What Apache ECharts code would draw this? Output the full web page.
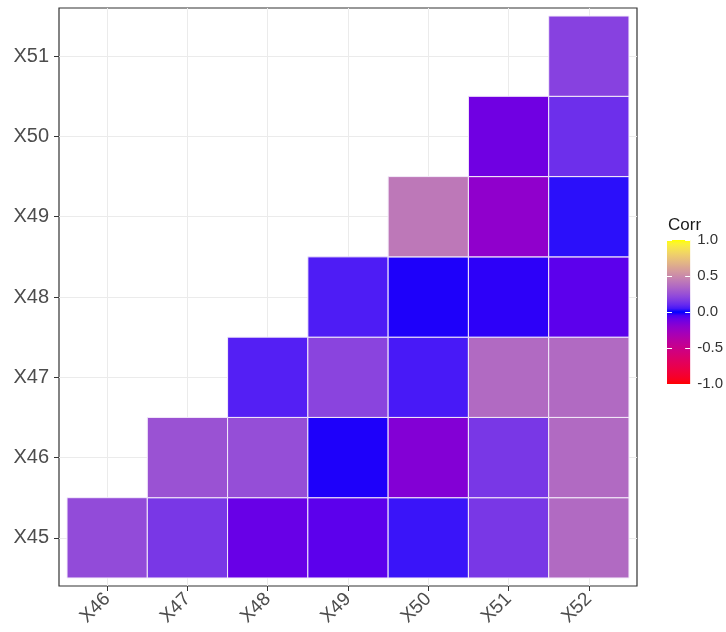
<!DOCTYPE html>
<html>
<head>
<meta charset="utf-8">
<script src="https://cdn.jsdelivr.net/npm/echarts@6/dist/echarts.min.js"></script>
<style>html,body{margin:0;padding:0;background:#fff;}#c{width:726px;height:632px;}</style>
</head>
<body>
<div id="c"></div>
<script>
const xCats = ['X46','X47','X48','X49','X50','X51','X52'];
const yCats = ['X45','X46','X47','X48','X49','X50','X51'];
const rowX45 = [0.23, 0.15, -0.10, -0.08, 0.04, 0.15, 0.36];
const rowX46 = [null, 0.26, 0.24, -0.02, -0.17, 0.15, 0.36];
const rowX47 = [null, null, 0.07, 0.20, 0.05, 0.36, 0.36];
const rowX48 = [null, null, null, 0.06, -0.02, -0.03, -0.08];
const rowX49 = [null, null, null, null, 0.42, -0.21, 0.03];
const rowX50 = [null, null, null, null, null, -0.12, 0.12];
const rowX51 = [null, null, null, null, null, null, 0.19];
const legendBreaks = [-1, -0.5, 0, 0.5, 1];
const legendTitle = 'Corr';

const rows = [rowX45, rowX46, rowX47, rowX48, rowX49, rowX50, rowX51];
const data = [];
rows.forEach((r, yi) => r.forEach((v, xi) => { if (v !== null) data.push([xi + 1, yi + 1, v]); }));

// Lab interpolation (like ggplot2 scale_fill_gradient2)
function srgbToLin(c){ c/=255; return c<=0.04045? c/12.92 : Math.pow((c+0.055)/1.055,2.4); }
function linToSrgb(c){ c=Math.max(0,Math.min(1,c)); const v = c<=0.0031308? 12.92*c : 1.055*Math.pow(c,1/2.4)-0.055; return Math.round(v*255); }
function rgb2lab(rgb){
  const r=srgbToLin(rgb[0]), g=srgbToLin(rgb[1]), b=srgbToLin(rgb[2]);
  let X=(0.4124*r+0.3576*g+0.1805*b)/0.95047, Y=(0.2126*r+0.7152*g+0.0722*b), Z=(0.0193*r+0.1192*g+0.9505*b)/1.08883;
  const f=t=> t>0.008856? Math.cbrt(t) : 7.787*t+16/116;
  const fx=f(X), fy=f(Y), fz=f(Z);
  return [116*fy-16, 500*(fx-fy), 200*(fy-fz)];
}
function lab2rgb(lab){
  const fy=(lab[0]+16)/116, fx=fy+lab[1]/500, fz=fy-lab[2]/200;
  const fi=t=> t*t*t>0.008856? t*t*t : (t-16/116)/7.787;
  const X=fi(fx)*0.95047, Y=fi(fy), Z=fi(fz)*1.08883;
  const r=3.2406*X-1.5372*Y-0.4986*Z, g=-0.9689*X+1.8758*Y+0.0415*Z, b=0.0557*X-0.2040*Y+1.0570*Z;
  return 'rgb('+linToSrgb(r)+','+linToSrgb(g)+','+linToSrgb(b)+')';
}
const labLow = rgb2lab([255,0,0]), labMid = rgb2lab([0,0,255]), labHigh = rgb2lab([255,255,0]);
function colorAt(v){
  const a = v<0? labLow : labHigh; const t = Math.abs(v);
  return lab2rgb([0,1,2].map(i => labMid[i] + (a[i]-labMid[i])*t));
}
const stopColors = [];
for (let i = 0; i <= 40; i++) stopColors.push(colorAt(-1 + i*0.05));
const gradStops = stopColors.map((c, i) => ({offset: 1 - i/40, color: c}));

const font = 'Liberation Sans, Arial, sans-serif';
const chart = echarts.init(document.getElementById('c'));
chart.setOption({
  animation: false,
  backgroundColor: '#fff',
  title: { text: legendTitle, left: 663, top: 212, textStyle: { fontSize: 17, fontWeight: 'normal', color: '#1a1a1a', fontFamily: font } },
  grid: [
    { left: 59, top: 8, width: 578, height: 578, show: true, borderColor: '#333', borderWidth: 1.2, backgroundColor: '#fff' },
    { left: 667, top: 240, width: 27, height: 144, show: false }
  ],
  visualMap: { show: false, type: 'continuous', seriesIndex: 0, dimension: 2, min: -1, max: 1, inRange: { color: stopColors } },
  xAxis: [
    { type: 'value', gridIndex: 0, min: 0.4, max: 7.6,
      axisLine: { show: false },
      axisTick: { show: true, length: 5, lineStyle: { color: '#333' }, customValues: [1,2,3,4,5,6,7] },
      axisLabel: { customValues: [1,2,3,4,5,6,7], formatter: v => xCats[Math.round(v)-1] || '', rotate: 45, fontSize: 19, color: '#4D4D4D', fontFamily: font, margin: 10 },
      splitLine: { show: true, lineStyle: { color: '#EBEBEB', width: 1 } } },
    { type: 'value', gridIndex: 1, min: 0, max: 1, show: false }
  ],
  yAxis: [
    { type: 'value', gridIndex: 0, min: 0.4, max: 7.6,
      axisLine: { show: false },
      axisTick: { show: true, length: 5, lineStyle: { color: '#333' }, customValues: [1,2,3,4,5,6,7] },
      axisLabel: { customValues: [1,2,3,4,5,6,7], formatter: v => yCats[Math.round(v)-1] || '', fontSize: 20, color: '#4D4D4D', fontFamily: font, margin: 10 },
      splitLine: { show: true, lineStyle: { color: '#EBEBEB', width: 1 } } },
    { type: 'value', gridIndex: 1, position: 'left', min: -1, max: 1, interval: 0.5, z: 10,
      axisLine: { show: false }, axisLabel: { show: false }, splitLine: { show: false },
      axisTick: { show: true, inside: true, length: 5, lineStyle: { color: '#fff', width: 1 } } },
    { type: 'value', gridIndex: 1, position: 'right', min: -1, max: 1, interval: 0.5, z: 10,
      axisLine: { show: false }, splitLine: { show: false },
      axisTick: { show: true, inside: true, length: 5, lineStyle: { color: '#fff', width: 1 } },
      axisLabel: { show: true, fontSize: 15, color: '#333', fontFamily: font, margin: 7, formatter: v => v.toFixed(1) } }
  ],
  series: [
    { type: 'custom', xAxisIndex: 0, yAxisIndex: 0, data: data, encode: { x: 0, y: 1 },
      renderItem: function (params, api) {
        const x = api.value(0), y = api.value(1);
        const p1 = api.coord([x - 0.5, y + 0.5]);
        const p2 = api.coord([x + 0.5, y - 0.5]);
        return { type: 'rect', shape: { x: p1[0], y: p1[1], width: p2[0] - p1[0], height: p2[1] - p1[1] },
          style: { fill: api.visual('color'), stroke: '#f4ecfa', lineWidth: 1 } };
      } },
    { type: 'custom', xAxisIndex: 1, yAxisIndex: 1, data: [[0, 1, 1, -1]], z: 2,
      renderItem: function (params, api) {
        const p1 = api.coord([api.value(0), api.value(1)]);
        const p2 = api.coord([api.value(2), api.value(3)]);
        return { type: 'rect', shape: { x: p1[0], y: p1[1], width: p2[0] - p1[0], height: p2[1] - p1[1] },
          style: { fill: new echarts.graphic.LinearGradient(0, 0, 0, 1, gradStops) } };
      } }
  ]
});
</script>
</body>
</html>
